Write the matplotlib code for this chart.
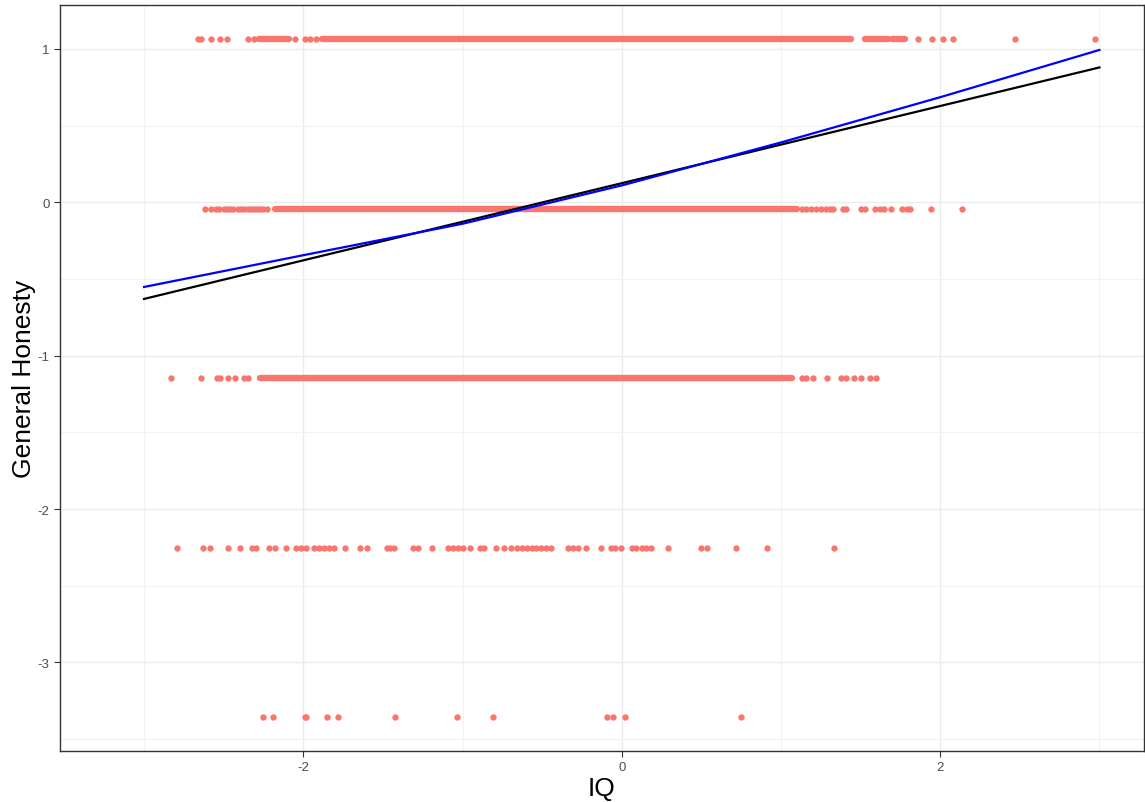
import numpy as np
import matplotlib.pyplot as plt

plt.rcParams['axes.unicode_minus'] = False

# honesty levels (y) and the IQ values (x) of the points on each level
niveles = [1.062, -0.043, -1.147, -2.251, -3.355]

# single points that can be told apart
fila1 = [-2.66, -2.64, -2.58, -2.52, -2.48, -2.35, -2.31, -2.05, -1.99, -1.96, -1.92,
         1.86, 1.95, 2.02, 2.08, 2.47, 2.97]
fila2 = [-2.62, -2.58, -2.55, -2.53, -2.50, -2.48, -2.46, -2.44, -2.41, -2.39, -2.37,
         -2.35, -2.33, -2.31, -2.29, -2.27, -2.25, -2.23, 1.13, 1.16, 1.19, 1.22, 1.25,
         1.28, 1.31, 1.33, 1.39, 1.41, 1.50, 1.53, 1.59, 1.62, 1.65, 1.69, 1.76, 1.79,
         1.81, 1.94, 2.14]
fila3 = [-2.83, -2.64, -2.54, -2.52, -2.47, -2.43, -2.37, -2.35, 1.13, 1.16, 1.20,
         1.29, 1.38, 1.41, 1.46, 1.50, 1.56, 1.60]
fila4 = [-2.791, -2.633, -2.587, -2.470, -2.398, -2.323, -2.294, -2.214, -2.176, -2.109,
         -2.046, -2.014, -1.983, -1.931, -1.899, -1.868, -1.836, -1.805, -1.736, -1.643,
         -1.602, -1.476, -1.455, -1.428, -1.313, -1.281, -1.191, -1.092, -1.061, -1.030,
         -0.998, -0.956, -0.887, -0.862, -0.788, -0.740, -0.698, -0.656, -0.625, -0.593,
         -0.562, -0.536, -0.505, -0.474, -0.442, -0.338, -0.306, -0.275, -0.222, -0.128,
         -0.065, -0.044, -0.006, 0.063, 0.092, 0.126, 0.155, 0.181, 0.291, 0.501, 0.533,
         0.717, 0.910, 1.335]
fila5 = [-2.252, -2.189, -1.992, -1.980, -1.853, -1.781, -1.422, -1.034, -0.808,
         -0.091, -0.055, 0.018, 0.747]
filas = [fila1, fila2, fila3, fila4, fila5]

# runs of overlapping points that merge into a solid band (first x, last x)
tramos1 = [(-2.28, -2.09), (-1.88, 1.44), (1.53, 1.67), (1.70, 1.78)]
tramos2 = [(-2.18, 1.10)]
tramos3 = [(-2.27, 1.07)]
tramos = [tramos1, tramos2, tramos3, [], []]

# fitted lines
x_lineal = [-3.0, 3.0]
y_lineal = [-0.630, 0.879]
x_suave = [-3.0, -2.0, -1.0, 0.0, 1.0, 2.0, 3.0]
y_suave = [-0.552, -0.345, -0.140, 0.110, 0.390, 0.685, 0.993]

fig = plt.figure(figsize=(11.45, 8.03), dpi=100)
ax = fig.add_axes([0.0524, 0.0639, 0.9467, 0.9286])

rojo = '#F8766D'
for nivel, xs, ts in zip(niveles, filas, tramos):
    ax.scatter(xs, np.full(len(xs), nivel), s=21, color=rojo, linewidths=0, zorder=3)
    for a, b in ts:
        ax.plot([a, b], [nivel, nivel], color=rojo, lw=4.6, solid_capstyle='round', zorder=3)

ax.plot(x_lineal, y_lineal, color='black', lw=1.6, zorder=4)
ax.plot(x_suave, y_suave, color='blue', lw=1.6, zorder=5)

ax.set_xlim(-3.528, 3.28)
ax.set_ylim(-3.575, 1.286)
ax.set_xticks([-2, 0, 2])
ax.set_yticks([-3, -2, -1, 0, 1])
ax.set_xticks([-3, -1, 1, 3], minor=True)
ax.set_yticks([-3.5, -2.5, -1.5, -0.5, 0.5], minor=True)
ax.grid(which='major', color='#EBEBEB', lw=1.0, zorder=0)
ax.grid(which='minor', color='#F2F2F2', lw=0.8, zorder=0)
ax.set_axisbelow(True)
ax.tick_params(which='minor', length=0)
ax.tick_params(which='major', length=4, width=0.8, color='#333333',
               labelcolor='#4D4D4D', labelsize=9.5)
for lado in ax.spines.values():
    lado.set_color('#333333')
    lado.set_linewidth(1.0)

ax.set_xlabel('IQ', fontsize=19, family='Liberation Sans', labelpad=2)
ax.set_ylabel('General Honesty', fontsize=19, family='Liberation Sans', labelpad=1)
for t in ax.get_xticklabels() + ax.get_yticklabels():
    t.set_family('Liberation Sans')

fig.savefig('out.png', dpi=100)
